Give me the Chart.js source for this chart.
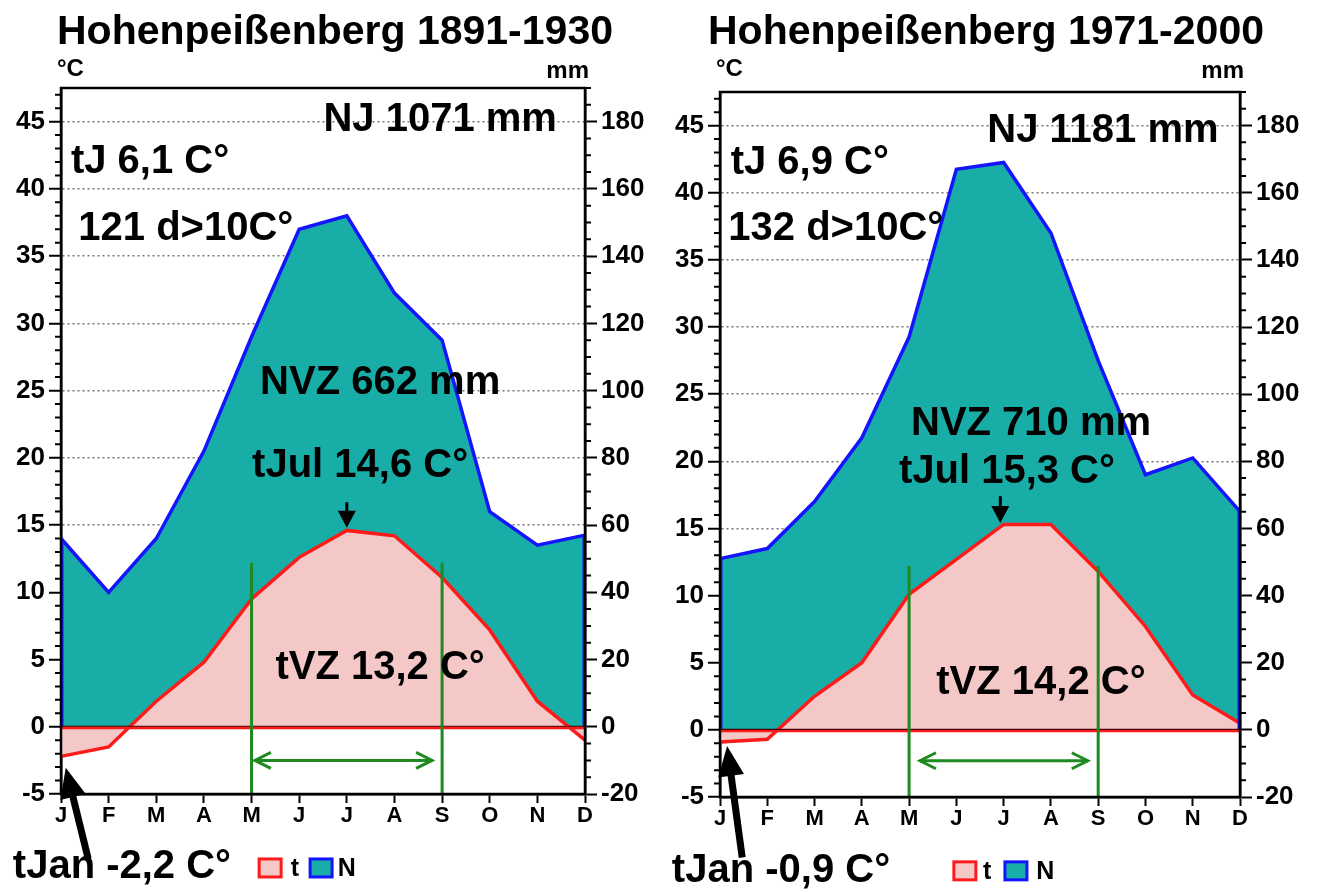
<!DOCTYPE html>
<html>
<head>
<meta charset="utf-8">
<script src="https://cdn.jsdelivr.net/npm/chart.js@4"></script>
<style>
html, body { margin: 0; padding: 0; background: #fff; }
#wrap { position: relative; width: 1317px; height: 892px; }
.box { position: absolute; top: 0; }
</style>
</head>
<body>
<div id="wrap">
  <div class="box" style="left:0"><canvas id="c1" width="658" height="892"></canvas></div>
  <div class="box" style="left:658px"><canvas id="c2" width="659" height="892"></canvas></div>
</div>
<script>
const months = ['J', 'F', 'M', 'A', 'M', 'J', 'J', 'A', 'S', 'O', 'N', 'D'];
const temp1891 = [-2.2, -1.5, 1.9, 4.8, 9.5, 12.6, 14.6, 14.2, 11.1, 7.2, 1.9, -1.0];
const prec1891 = [56, 40, 56, 82, 116, 148, 152, 129, 115, 64, 54, 57];
const temp1971 = [-0.9, -0.7, 2.5, 5.0, 10.1, 12.7, 15.3, 15.3, 11.8, 7.7, 2.6, 0.5];
const prec1971 = [51, 54, 68, 87, 117, 167, 169, 148, 110, 76, 81, 65];

// Achsen: °C links, mm rechts (1 °C = 4 mm)
const tempMin = -5, tempMax = 47.5, tempStep = 5;
const precMin = -20, precMax = 190, precStep = 20;

const FONT = '"Liberation Sans", Arial, sans-serif';
const font = (size, bold) => (bold ? 'bold ' : '') + size + 'px ' + FONT;

const RED = '#ff1a1a';
const BLUE = '#1414ff';
const PINK = '#f5c8c8';
const TEAL = '#18ada7';
const GREEN = '#1f8a1f';

// Beschriftungen im Diagramm (Monatsindex, °C)
const notes1891 = [
  ['NJ 1071 mm', 7.96, 45.1],
  ['tJ 6,1 C°', 1.87, 42.0],
  ['121 d>10C°', 2.62, 37.0],
  ['NVZ 662 mm', 6.70, 25.6],
  ['tJul 14,6 C°', 6.28, 19.4],
  ['tVZ 13,2 C°', 6.70, 4.4],
  ['tJan -2,2 C°', 1.28, -10.4]
];
const notes1971 = [
  ['NJ 1181 mm', 8.10, 44.6],
  ['tJ 6,9 C°', 1.90, 42.2],
  ['132 d>10C°', 2.45, 37.3],
  ['NVZ 710 mm', 6.58, 22.8],
  ['tJul 15,3 C°', 6.07, 19.2],
  ['tVZ 14,2 C°', 6.79, 3.5],
  ['tJan -0,9 C°', 1.29, -10.5]
];

function arrowHead(ctx, x1, y1, x2, y2, len, half) {
  const a = Math.atan2(y2 - y1, x2 - x1);
  ctx.beginPath();
  ctx.moveTo(x2, y2);
  ctx.lineTo(x2 - len * Math.cos(a) + half * Math.sin(a), y2 - len * Math.sin(a) - half * Math.cos(a));
  ctx.lineTo(x2 - len * Math.cos(a) - half * Math.sin(a), y2 - len * Math.sin(a) + half * Math.cos(a));
  ctx.closePath();
  ctx.fill();
}

function openHead(ctx, x1, y1, x2, y2, len, half) {
  const a = Math.atan2(y2 - y1, x2 - x1);
  ctx.beginPath();
  ctx.moveTo(x2 - len * Math.cos(a) + half * Math.sin(a), y2 - len * Math.sin(a) - half * Math.cos(a));
  ctx.lineTo(x2, y2);
  ctx.lineTo(x2 - len * Math.cos(a) - half * Math.sin(a), y2 - len * Math.sin(a) + half * Math.cos(a));
  ctx.stroke();
}

const climatePlugin = {
  id: 'climate',
  afterDatasetsDraw(chart, args, o) {
    const ctx = chart.ctx, a = chart.chartArea;
    const x = chart.scales.x, t = chart.scales.yT, n = chart.scales.yN;
    const px = v => x.left + (x.right - x.left) * v / (months.length - 1);
    ctx.save();
    // Randkanten der Niederschlagsfläche
    ctx.strokeStyle = BLUE; ctx.lineWidth = 3;
    ctx.beginPath();
    ctx.moveTo(a.left + 1, n.getPixelForValue(o.prec[0]));
    ctx.lineTo(a.left + 1, t.getPixelForValue(0));
    ctx.moveTo(a.right - 1, n.getPixelForValue(o.prec[o.prec.length - 1]));
    ctx.lineTo(a.right - 1, t.getPixelForValue(0));
    ctx.stroke();
    // Nulllinie
    const y0 = t.getPixelForValue(0);
    ctx.strokeStyle = RED; ctx.lineWidth = 3;
    ctx.beginPath(); ctx.moveTo(a.left, y0 + 1); ctx.lineTo(a.right, y0 + 1); ctx.stroke();
    ctx.strokeStyle = '#400'; ctx.lineWidth = 1.2;
    ctx.beginPath(); ctx.moveTo(a.left, y0 - 0.5); ctx.lineTo(a.right, y0 - 0.5); ctx.stroke();
    // Vegetationszeit
    ctx.strokeStyle = GREEN; ctx.fillStyle = GREEN; ctx.lineWidth = 3;
    [4, 8].forEach(i => {
      ctx.beginPath();
      ctx.moveTo(x.getPixelForValue(i), a.bottom);
      ctx.lineTo(x.getPixelForValue(i), t.getPixelForValue(o.vzTop));
      ctx.stroke();
    });
    const ya = t.getPixelForValue(o.vzArrow[2]);
    const xa1 = px(o.vzArrow[0]), xa2 = px(o.vzArrow[1]);
    ctx.beginPath(); ctx.moveTo(xa1, ya); ctx.lineTo(xa2, ya); ctx.stroke();
    openHead(ctx, xa2, ya, xa1, ya, 16, 8);
    openHead(ctx, xa1, ya, xa2, ya, 16, 8);
    // Pfeil Julitemperatur
    ctx.strokeStyle = '#000'; ctx.fillStyle = '#000'; ctx.lineWidth = 3;
    const jx = px(o.julArrow[0]);
    const jy1 = t.getPixelForValue(o.julArrow[1]), jy2 = t.getPixelForValue(o.julArrow[2]);
    ctx.beginPath(); ctx.moveTo(jx, jy1); ctx.lineTo(jx, jy2 - 10); ctx.stroke();
    arrowHead(ctx, jx, jy1, jx, jy2, 17, 9);
    // Texte
    ctx.fillStyle = '#000';
    ctx.font = font(40, true);
    ctx.textAlign = 'center'; ctx.textBaseline = 'middle';
    o.notes.forEach(([s, mx, ty]) => ctx.fillText(s, px(mx), t.getPixelForValue(ty)));
    // Pfeil Januartemperatur
    const sx = px(o.janArrow[0]), sy = t.getPixelForValue(o.janArrow[1]);
    const ex = px(o.janArrow[2]), ey = t.getPixelForValue(o.janArrow[3]);
    const ang = Math.atan2(ey - sy, ex - sx);
    ctx.lineWidth = 7;
    ctx.beginPath(); ctx.moveTo(sx, sy); ctx.lineTo(ex - 20 * Math.cos(ang), ey - 20 * Math.sin(ang)); ctx.stroke();
    arrowHead(ctx, sx, sy, ex, ey, 30, 13);
    ctx.restore();
  },
  afterDraw(chart, args, o) {
    const ctx = chart.ctx, a = chart.chartArea;
    const x = chart.scales.x, t = chart.scales.yT, n = chart.scales.yN;
    const px = v => x.left + (x.right - x.left) * v / (months.length - 1);
    ctx.save();
    // Nebenteilstriche
    ctx.strokeStyle = '#000'; ctx.lineWidth = 2;
    ctx.beginPath();
    for (let v = tempMin; v <= tempMax; v += 1) {
      if (v % tempStep === 0) continue;
      const y = t.getPixelForValue(v);
      ctx.moveTo(a.left - 6, y); ctx.lineTo(a.left, y);
    }
    for (let v = precMin; v <= precMax; v += 5) {
      if (v % precStep === 0) continue;
      const y = n.getPixelForValue(v);
      ctx.moveTo(a.right, y); ctx.lineTo(a.right + 6, y);
    }
    ctx.stroke();
    // Rahmen
    ctx.lineWidth = 2.5;
    ctx.strokeRect(a.left, a.top, a.right - a.left, a.bottom - a.top);
    // Titel und Einheiten
    ctx.fillStyle = '#000';
    ctx.textBaseline = 'middle';
    ctx.textAlign = 'left';
    ctx.font = font(41, true);
    ctx.fillText(o.title, a.left + o.titleDx, 33);
    ctx.font = font(24, true);
    ctx.fillText('°C', a.left - 4, 69);
    ctx.textAlign = 'right';
    ctx.fillText('mm', a.right + 4, 71);
    // Legende
    const ly = t.getPixelForValue(o.legend[4]);
    const box = (cx, stroke, fill) => {
      ctx.fillStyle = fill; ctx.fillRect(cx - 11, ly - 9, 22, 18);
      ctx.strokeStyle = stroke; ctx.lineWidth = 3; ctx.strokeRect(cx - 11, ly - 9, 22, 18);
    };
    box(px(o.legend[0]), RED, PINK);
    box(px(o.legend[2]), BLUE, TEAL);
    ctx.fillStyle = '#000'; ctx.textAlign = 'center';
    ctx.font = font(25, true);
    ctx.fillText('t', px(o.legend[1]), ly + 1);
    ctx.fillText('N', px(o.legend[3]), ly + 1);
    ctx.restore();
  }
};

function makeChart(id, temps, prec, box, opts) {
  const tickFont = { family: FONT, size: 26, weight: 'bold' };
  return new Chart(document.getElementById(id), {
    type: 'line',
    data: {
      labels: months,
      datasets: [
        {
          label: 't', data: temps, yAxisID: 'yT', order: 0,
          borderColor: RED, borderWidth: 3.5, backgroundColor: PINK,
          fill: 'origin', pointRadius: 0, tension: 0
        },
        {
          label: 'N', data: prec, yAxisID: 'yN', order: 1,
          borderColor: BLUE, borderWidth: 3.5, backgroundColor: TEAL,
          fill: 'origin', pointRadius: 0, tension: 0
        }
      ]
    },
    options: {
      responsive: false,
      animation: false,
      layout: { padding: { top: box.top, left: 0, right: 0, bottom: 0 } },
      plugins: { legend: { display: false }, tooltip: { enabled: false }, climate: opts },
      scales: {
        x: {
          type: 'category', offset: false,
          grid: { drawOnChartArea: false, tickLength: 9, tickWidth: 2, tickColor: '#000' },
          border: { color: '#000', width: 2.5 },
          ticks: { font: { family: FONT, size: 22, weight: 'bold' }, color: '#000', padding: 0, autoSkip: false, maxRotation: 0 },
          afterFit: s => { s.height = box.bottom; }
        },
        yT: {
          type: 'linear', position: 'left', min: tempMin, max: tempMax,
          grid: {
            color: c => (c.tick.value > 0 && c.tick.value <= 45) ? '#777' : 'rgba(0,0,0,0)',
            lineWidth: 1.5, tickLength: 12, tickWidth: 2,
            tickColor: c => c.tick.value > 45 ? 'rgba(0,0,0,0)' : '#000'
          },
          border: { color: '#000', width: 2.5, dash: [2, 3] },
          ticks: { stepSize: tempStep, font: tickFont, color: '#000', padding: 4,
                   callback: v => v > 45 ? '' : v },
          afterFit: s => { s.width = box.left; }
        },
        yN: {
          type: 'linear', position: 'right', min: precMin, max: precMax,
          grid: {
            drawOnChartArea: false, tickLength: 12, tickWidth: 2,
            tickColor: c => c.tick.value > 180 ? 'rgba(0,0,0,0)' : '#000'
          },
          border: { color: '#000', width: 2.5 },
          ticks: { stepSize: precStep, font: tickFont, color: '#000', padding: 4,
                   callback: v => v > 180 ? '' : v },
          afterFit: s => { s.width = box.right; }
        }
      }
    },
    plugins: [climatePlugin]
  });
}

makeChart('c1', temp1891, prec1891, { top: 88, left: 61, right: 73, bottom: 98 }, {
  title: 'Hohenpeißenberg 1891-1930', titleDx: -4,
  prec: prec1891, notes: notes1891,
  vzTop: 12.2, vzArrow: [4.07, 7.79, -2.5],
  julArrow: [6.0, 16.7, 14.8],
  janArrow: [0.57, -9.8, 0.1, -3.05],
  legend: [4.39, 4.91, 5.46, 6.0, -10.5]
});

makeChart('c2', temp1971, prec1971, { top: 92, left: 62, right: 77, bottom: 95 }, {
  title: 'Hohenpeißenberg 1971-2000', titleDx: -12,
  prec: prec1971, notes: notes1971,
  vzTop: 12.2, vzArrow: [4.23, 7.78, -2.3],
  julArrow: [5.93, 17.4, 15.4],
  janArrow: [0.47, -9.5, 0.15, -1.2],
  legend: [5.18, 5.65, 6.26, 6.88, -10.5]
});
</script>
</body>
</html>
